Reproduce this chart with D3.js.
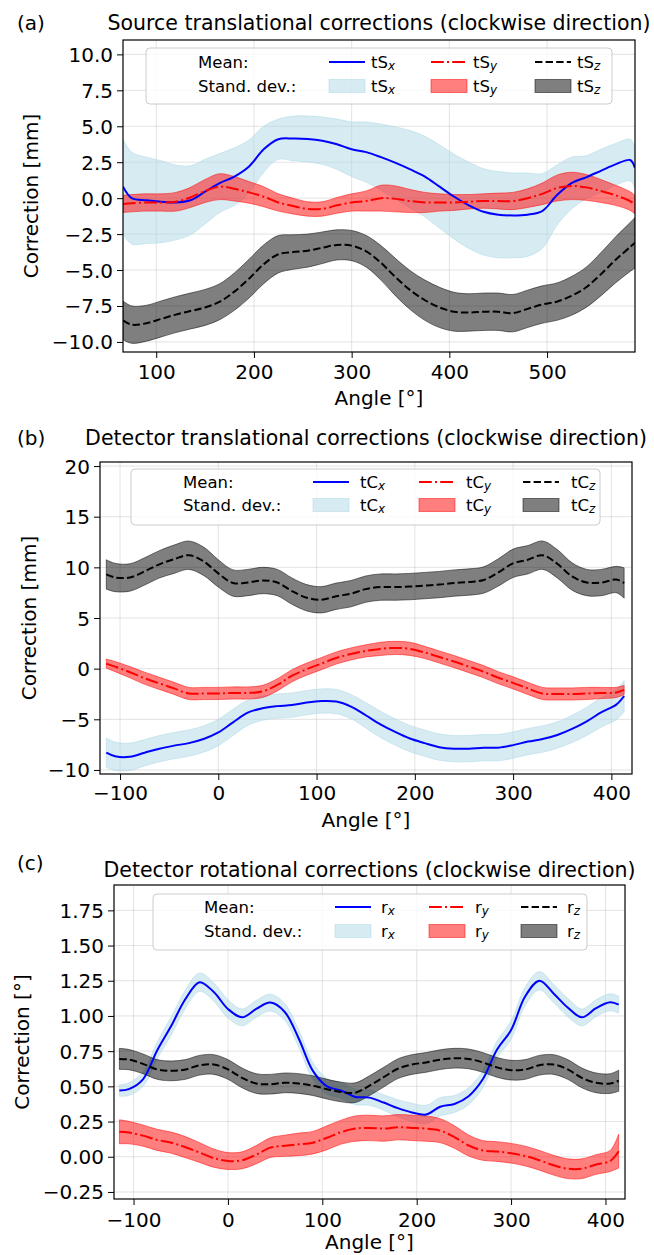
<!DOCTYPE html>
<html><head><meta charset="utf-8">
<script src="https://cdn.jsdelivr.net/npm/d3@7"></script>
<style>
body{margin:0;background:#fff}
svg{display:block}
text{font-family:"DejaVu Sans",sans-serif;fill:#000}
</style>
</head><body>
<svg id="chart" width="654" height="1255"></svg>
<script>
// ---------- Panel (a): source translational corrections ----------
const anglesA = [66,75,90,105,120,135,150,165,180,195,210,225,240,255,270,285,300,315,330,345,360,375,390,405,420,435,450,465,480,495,510,525,540,555,570,585,590];
const tSxMean = [0.8,0.0,-0.15,-0.25,-0.3,-0.15,0.45,1.05,1.5,2.2,3.4,4.1,4.15,4.12,4.0,3.75,3.4,3.2,2.85,2.45,2.0,1.5,0.8,0.1,-0.5,-0.95,-1.15,-1.2,-1.15,-0.9,0.2,1.05,1.45,1.9,2.35,2.65,2.1];
const tSxStd  = [3.3,3.2,3.0,2.85,2.6,2.4,2.25,2.05,2.0,1.85,1.6,1.4,1.55,1.6,1.65,1.75,1.9,2.1,2.3,2.5,2.7,2.8,2.9,2.95,3.0,3.0,3.0,2.95,2.9,2.6,2.1,1.8,1.5,1.5,1.45,1.45,1.4];
const tSyMean = [-0.4,-0.35,-0.3,-0.3,-0.25,0.05,0.5,0.8,0.65,0.4,0.1,-0.3,-0.55,-0.75,-0.75,-0.5,-0.3,-0.2,0.0,-0.05,-0.2,-0.3,-0.3,-0.3,-0.25,-0.2,-0.2,-0.2,0.0,0.3,0.7,0.85,0.75,0.5,0.2,-0.2,-0.45];
const tSyStd  = [0.6,0.6,0.6,0.6,0.65,0.7,0.8,0.9,0.85,0.75,0.7,0.6,0.55,0.5,0.5,0.55,0.6,0.7,0.9,0.9,0.8,0.7,0.6,0.55,0.5,0.5,0.55,0.6,0.65,0.75,0.9,0.95,0.9,0.8,0.7,0.65,0.65];
const tSzMean = [-8.5,-8.8,-8.7,-8.4,-8.1,-7.85,-7.6,-7.2,-6.5,-5.6,-4.6,-3.9,-3.75,-3.65,-3.45,-3.25,-3.3,-3.7,-4.5,-5.5,-6.4,-7.1,-7.6,-7.9,-7.95,-7.9,-7.9,-8.0,-7.7,-7.4,-7.2,-6.8,-6.2,-5.3,-4.3,-3.4,-3.1];
const tSzStd  = [1.35,1.3,1.25,1.25,1.25,1.25,1.25,1.25,1.3,1.35,1.35,1.3,1.2,1.15,1.1,1.05,1.05,1.1,1.2,1.3,1.35,1.4,1.4,1.35,1.3,1.3,1.3,1.3,1.3,1.3,1.3,1.35,1.4,1.5,1.6,1.7,1.75];
const xTicksA = [100,200,300,400,500];
const yTicksA = [-10,-7.5,-5,-2.5,0,2.5,5,7.5,10];

// ---------- Panel (b): detector translational corrections ----------
const anglesB = [-114,-105,-90,-75,-60,-45,-30,-15,0,15,30,45,60,75,90,105,120,135,150,165,180,195,210,225,240,255,270,285,300,315,330,345,360,375,390,405,413];
const tCxMean = [-8.3,-8.65,-8.7,-8.3,-7.9,-7.6,-7.35,-6.95,-6.3,-5.3,-4.35,-3.9,-3.7,-3.6,-3.35,-3.2,-3.25,-3.75,-4.6,-5.5,-6.25,-6.9,-7.35,-7.75,-7.9,-7.9,-7.8,-7.8,-7.55,-7.2,-6.95,-6.55,-5.95,-5.2,-4.3,-3.55,-2.7];
const tCxStd  = [1.45,1.4,1.35,1.3,1.3,1.3,1.3,1.3,1.3,1.3,1.25,1.2,1.2,1.2,1.2,1.2,1.2,1.2,1.25,1.3,1.3,1.3,1.3,1.3,1.3,1.3,1.3,1.3,1.3,1.3,1.3,1.3,1.35,1.4,1.45,1.5,1.55];
const tCyMean = [0.5,0.2,-0.35,-0.95,-1.45,-1.95,-2.45,-2.45,-2.45,-2.4,-2.4,-2.25,-1.6,-0.7,-0.05,0.5,1.05,1.45,1.75,1.95,2.05,1.95,1.6,1.15,0.7,0.2,-0.3,-0.9,-1.4,-1.95,-2.45,-2.5,-2.5,-2.45,-2.4,-2.35,-2.1];
const tCyStd  = [0.45,0.5,0.55,0.6,0.6,0.6,0.6,0.6,0.6,0.6,0.6,0.6,0.6,0.6,0.6,0.6,0.6,0.6,0.6,0.65,0.65,0.65,0.6,0.6,0.6,0.6,0.6,0.6,0.6,0.6,0.6,0.6,0.6,0.6,0.55,0.5,0.45];
const tCzMean = [9.3,9.0,9.0,9.6,10.3,10.8,11.2,10.6,9.4,8.45,8.5,8.7,8.5,7.65,7.0,6.8,7.15,7.4,7.85,8.05,8.05,8.1,8.2,8.3,8.45,8.55,8.75,9.5,10.4,10.75,11.2,10.35,9.1,8.5,8.5,8.8,8.45];
const tCzStd  = [1.45,1.4,1.35,1.35,1.35,1.4,1.4,1.4,1.35,1.3,1.3,1.3,1.3,1.3,1.3,1.3,1.3,1.3,1.3,1.3,1.3,1.3,1.3,1.3,1.3,1.3,1.3,1.35,1.4,1.4,1.4,1.4,1.35,1.3,1.3,1.3,1.5];
const xTicksB = [-100,0,100,200,300,400];
const yTicksB = [-10,-5,0,5,10,15,20];

// ---------- Panel (c): detector rotational corrections ----------
const anglesC = [-115,-105,-90,-75,-60,-45,-30,-15,0,15,30,45,60,75,90,105,120,135,150,165,180,195,210,225,240,255,270,285,300,315,330,345,360,375,390,405,414];
const rxMean = [0.47,0.48,0.55,0.755,0.93,1.12,1.24,1.17,1.05,0.99,1.05,1.095,1.03,0.84,0.61,0.5,0.47,0.425,0.42,0.385,0.345,0.315,0.3,0.355,0.375,0.43,0.55,0.76,0.9,1.14,1.25,1.16,1.06,0.99,1.055,1.097,1.08];
const rxStd  = [0.04,0.045,0.05,0.06,0.065,0.065,0.065,0.065,0.065,0.06,0.06,0.06,0.06,0.06,0.06,0.055,0.055,0.055,0.055,0.055,0.06,0.065,0.065,0.065,0.06,0.06,0.06,0.06,0.065,0.065,0.065,0.065,0.065,0.06,0.06,0.06,0.06];
const ryMean = [0.177,0.172,0.15,0.12,0.1,0.068,0.03,-0.01,-0.03,-0.025,0.015,0.065,0.078,0.088,0.1,0.135,0.175,0.2,0.205,0.2,0.21,0.205,0.2,0.185,0.14,0.08,0.045,0.037,0.025,0.005,-0.025,-0.06,-0.085,-0.085,-0.055,-0.03,0.04];
const ryStd  = [0.085,0.08,0.075,0.075,0.075,0.075,0.07,0.065,0.06,0.06,0.065,0.07,0.075,0.08,0.08,0.085,0.085,0.09,0.09,0.09,0.09,0.09,0.09,0.085,0.08,0.075,0.07,0.07,0.07,0.07,0.07,0.07,0.07,0.07,0.07,0.075,0.12];
const rzMean = [0.695,0.69,0.66,0.62,0.61,0.62,0.65,0.655,0.62,0.56,0.52,0.515,0.525,0.52,0.505,0.48,0.46,0.455,0.505,0.565,0.625,0.655,0.67,0.69,0.70,0.695,0.67,0.635,0.615,0.62,0.65,0.655,0.62,0.56,0.525,0.52,0.54];
const rzStd  = [0.075,0.072,0.07,0.07,0.07,0.07,0.07,0.07,0.07,0.07,0.07,0.07,0.07,0.07,0.07,0.07,0.07,0.07,0.07,0.07,0.07,0.07,0.07,0.07,0.07,0.07,0.07,0.07,0.07,0.07,0.07,0.07,0.07,0.07,0.07,0.07,0.075];
const xTicksC = [-100,0,100,200,300,400];
const yTicksC = [-0.25,0,0.25,0.5,0.75,1.0,1.25,1.5,1.75];

// ---------- Styles ----------
const seriesStyle = [
  {line:"#0000ff", dash:null,            band:"#add8e6"},
  {line:"#ff0000", dash:"12.8,3.2,2,3.2", band:"#ff0000"},
  {line:"#000000", dash:"7.4,3.2",        band:"#000000"}
];
const subs = ["x","y","z"];

const panels = [
  {letter:"(a)", title:"Source translational corrections (clockwise direction)", ylabel:"Correction [mm]",
   base:"tS", angles:anglesA, means:[tSxMean,tSyMean,tSzMean], stds:[tSxStd,tSyStd,tSzStd],
   xTicks:xTicksA, yTicks:yTicksA, fmt:d3.format(".1f"),
   box:{x0:123,x1:635,y0:40,y1:352}, xDom:[66,590], yDom:[-10.7,11.0],
   letterY:23, titleY:23, xtY:372, xlY:398, ylX:31,
   leg:{x0:146,x1:612,y0:48,y1:104,r1:62,r2:86,textX:198,hx:[329,431,535],tx:[371,473,577]}},
  {letter:"(b)", title:"Detector translational corrections (clockwise direction)", ylabel:"Correction [mm]",
   base:"tC", angles:anglesB, means:[tCxMean,tCyMean,tCzMean], stds:[tCxStd,tCyStd,tCzStd],
   xTicks:xTicksB, yTicks:yTicksB, fmt:d3.format("d"),
   box:{x0:100,x1:632,y0:462,y1:774}, xDom:[-120.4,421], yDom:[-10.4,20.4],
   letterY:438, titleY:438, xtY:793, xlY:820, ylX:29,
   leg:{x0:131,x1:600,y0:469,y1:525,r1:482,r2:505,textX:183,hx:[313,419,523],tx:[360,466,571]}},
  {letter:"(c)", title:"Detector rotational corrections (clockwise direction)", ylabel:"Correction [°]",
   base:"r", angles:anglesC, means:[rxMean,ryMean,rzMean], stds:[rxStd,ryStd,rzStd],
   xTicks:xTicksC, yTicks:yTicksC, fmt:d3.format(".2f"),
   box:{x0:114,x1:625,y0:885,y1:1199}, xDom:[-120.7,420.7], yDom:[-0.30,1.93],
   letterY:863, titleY:870, xtY:1220, xlY:1242, ylX:22,
   leg:{x0:153,x1:587,y0:894,y1:950,r1:907,r2:931,textX:204,hx:[335,429,521],tx:[381,475,567]}}
];

const svg = d3.select("#chart");
const FS = 20, TFS = 20.5, LFS = 16.5;

function labelWithSub(sel, base, sub){
  sel.text(null);
  sel.append("tspan").text(base);
  sel.append("tspan").attr("font-style","italic").attr("font-size","72%").attr("dy","0.3em").text(sub);
}

panels.forEach((p, pi) => {
  const g = svg.append("g");
  const b = p.box;
  const x = d3.scaleLinear().domain(p.xDom).range([b.x0, b.x1]);
  const y = d3.scaleLinear().domain(p.yDom).range([b.y1, b.y0]);

  // grid
  const grid = g.append("g");
  p.xTicks.forEach(t => grid.append("line").attr("x1",x(t)).attr("x2",x(t)).attr("y1",b.y0).attr("y2",b.y1)
    .attr("stroke","#b0b0b0").attr("stroke-opacity",0.35).attr("stroke-width",1));
  p.yTicks.forEach(t => grid.append("line").attr("y1",y(t)).attr("y2",y(t)).attr("x1",b.x0).attr("x2",b.x1)
    .attr("stroke","#b0b0b0").attr("stroke-opacity",0.35).attr("stroke-width",1));

  const clipId = "clip"+pi;
  svg.append("clipPath").attr("id",clipId).append("rect")
    .attr("x",b.x0).attr("y",b.y0).attr("width",b.x1-b.x0).attr("height",b.y1-b.y0);
  const plot = g.append("g").attr("clip-path",`url(#${clipId})`);

  const idx = d3.range(p.angles.length);
  // bands
  p.means.forEach((m, si) => {
    const s = p.stds[si];
    const area = d3.area().x(i => x(p.angles[i])).y0(i => y(m[i]-s[i])).y1(i => y(m[i]+s[i]))
      .curve(d3.curveCatmullRom.alpha(0.5));
    plot.append("path").attr("d", area(idx))
      .attr("fill", seriesStyle[si].band).attr("fill-opacity",0.5)
      .attr("stroke", seriesStyle[si].band).attr("stroke-opacity",0.5).attr("stroke-width",1);
  });
  // mean lines
  p.means.forEach((m, si) => {
    const line = d3.line().x(i => x(p.angles[i])).y(i => y(m[i])).curve(d3.curveCatmullRom.alpha(0.5));
    const path = plot.append("path").attr("d", line(idx)).attr("fill","none")
      .attr("stroke", seriesStyle[si].line).attr("stroke-width",2);
    if (seriesStyle[si].dash) path.attr("stroke-dasharray", seriesStyle[si].dash);
  });

  // axes
  const xAxis = d3.axisBottom(x).tickValues(p.xTicks).tickSize(6).tickPadding(4).tickFormat(d3.format("d"));
  const yAxis = d3.axisLeft(y).tickValues(p.yTicks).tickSize(6).tickPadding(4).tickFormat(p.fmt);
  const gx = g.append("g").attr("transform",`translate(0,${b.y1})`).call(xAxis);
  const gy = g.append("g").attr("transform",`translate(${b.x0},0)`).call(yAxis);
  [gx, gy].forEach(ax => {
    ax.select(".domain").remove();
    ax.selectAll(".tick line").attr("stroke","#000").attr("stroke-width",1);
    ax.selectAll(".tick text").attr("font-size",FS).attr("font-family","DejaVu Sans").attr("fill","#000");
  });
  gx.selectAll(".tick text").attr("dy",null).attr("y",p.xtY - b.y1).attr("dominant-baseline","central");
  gy.selectAll(".tick text").attr("dy",null).attr("dominant-baseline","central");

  // frame
  g.append("rect").attr("x",b.x0).attr("y",b.y0).attr("width",b.x1-b.x0).attr("height",b.y1-b.y0)
    .attr("fill","none").attr("stroke","#000").attr("stroke-width",1.2);

  // labels
  g.append("text").attr("x",(b.x0+b.x1)/2).attr("y",p.xlY).attr("text-anchor","middle")
    .attr("dominant-baseline","central").attr("font-size",FS).text("Angle [°]");
  g.append("text").attr("transform",`translate(${p.ylX},${(b.y0+b.y1)/2}) rotate(-90)`)
    .attr("text-anchor","middle").attr("dominant-baseline","central").attr("font-size",FS).text(p.ylabel);
  g.append("text").attr("x",(b.x0+b.x1)/2).attr("y",p.titleY).attr("text-anchor","middle")
    .attr("dominant-baseline","central").attr("font-size",TFS).text(p.title);
  g.append("text").attr("x",17).attr("y",p.letterY).attr("dominant-baseline","central")
    .attr("font-size",FS).text(p.letter);

  // legend
  const L = p.leg;
  const lg = g.append("g");
  lg.append("rect").attr("x",L.x0).attr("y",L.y0).attr("width",L.x1-L.x0).attr("height",L.y1-L.y0)
    .attr("rx",4).attr("fill","#fff").attr("fill-opacity",0.8).attr("stroke","#cccccc").attr("stroke-width",1);
  lg.append("text").attr("x",L.textX).attr("y",L.r1).attr("dominant-baseline","central").attr("font-size",LFS).text("Mean:");
  lg.append("text").attr("x",L.textX).attr("y",L.r2).attr("dominant-baseline","central").attr("font-size",LFS).text("Stand. dev.:");
  const hw = 36;
  subs.forEach((sub, si) => {
    const st = seriesStyle[si];
    const ln = lg.append("line").attr("x1",L.hx[si]).attr("x2",L.hx[si]+hw).attr("y1",L.r1).attr("y2",L.r1)
      .attr("stroke",st.line).attr("stroke-width",2);
    if (st.dash) ln.attr("stroke-dasharray", st.dash);
    lg.append("rect").attr("x",L.hx[si]).attr("y",L.r2-6.5).attr("width",hw).attr("height",13)
      .attr("fill",st.band).attr("fill-opacity",0.5).attr("stroke",st.band).attr("stroke-opacity",0.5);
    const t1 = lg.append("text").attr("x",L.tx[si]).attr("y",L.r1).attr("dominant-baseline","central").attr("font-size",LFS);
    labelWithSub(t1, p.base, sub);
    const t2 = lg.append("text").attr("x",L.tx[si]).attr("y",L.r2).attr("dominant-baseline","central").attr("font-size",LFS);
    labelWithSub(t2, p.base, sub);
  });
});
</script>
</body></html>
